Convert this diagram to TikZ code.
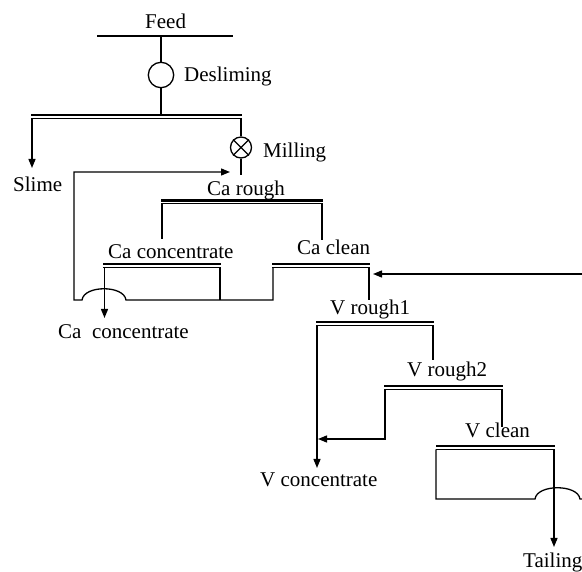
\documentclass[tikz,border=0pt]{standalone}
\usepackage{fontspec}
\setmainfont{Liberation Serif}
\usetikzlibrary{arrows.meta}
\newcommand\flotcell[3]{%
  \draw[cellbar] (#1,#3) -- (#2,#3);
  \draw[cellthin] (#1,#3+3.4) -- (#2,#3+3.4);}
\begin{document}
\begin{tikzpicture}[x=1pt,y=-1pt,
  line/.style={line width=1.3pt},
  cellbar/.style={line width=2.8pt},
  cellthin/.style={line width=1pt},
  arr/.style={line, -{Triangle[length=9pt,width=7pt]}},
  lbl/.style={font=\fontsize{21}{25}\selectfont, inner sep=0pt, anchor=base west},
  unit/.style={circle, draw, line width=1.3pt, inner sep=0pt},
]
\useasboundingbox (0,0) rectangle (582,572);

% labels
\node[lbl] (feed) at (145,29) {Feed};
\node[lbl] (deslab) at (184,82) {Desliming};
\node[lbl] (milllab) at (263,158) {Milling};
\node[lbl] (slime) at (13,192) {Slime};
\node[lbl] (carough) at (207,195.5) {Ca rough};
\node[lbl] (caconc) at (108,259) {Ca concentrate};
\node[lbl] (caclean) at (297,255) {Ca clean};
\node[lbl] (caconcout) at (58,339) {Ca\ \ concentrate};
\node[lbl] (vr1) at (330,315) {V rough1};
\node[lbl] (vr2) at (407,377) {V rough2};
\node[lbl] (vclean) at (465,438) {V clean};
\node[lbl] (vconc) at (260,487) {V concentrate};
\node[lbl] (tail) at (523,568) {Tailing};

% feed and desliming
\draw[line] (97,36) -- (233,36);
\node[unit, minimum size=25.4pt] (des) at (161,75) {};
\draw[line] (161,36) -- (des.north);
\draw[line] (des.south) -- (161,115);
\flotcell{31}{242}{115}
\draw[arr] (32,118.4) -- (32,168);

% milling
\node[unit, minimum size=21pt] (mill) at (241,147.5) {};
\draw[line] (mill.45) -- (mill.225) (mill.135) -- (mill.315);
\draw[line] (241,118.4) -- (mill.north);
\draw[line] (mill.south) -- (241,175);

% calcite circuit
\flotcell{161}{323}{200.5}
\draw[line] (162,203.9) -- (162,239);
\draw[line] (322,203.9) -- (322,240);

\flotcell{103}{221}{264}
\draw[arr] (104.5,267.4) -- (104.5,318);
\draw[line] (220,267.4) -- (220,300);

\flotcell{272}{370}{264}
\draw[line] (369,267.4) -- (369,300);

% recycle to milling
\draw[arr] (273,267.4) -- (273,300) -- (126,300)
  .. controls (124,285) and (84,285) .. (82,300) -- (74,300) -- (74,172) -- (230,172);

% recycle from right
\draw[arr] (584,274) -- (373,274);

% vanadium circuit
\flotcell{316}{434}{322}
\draw[arr] (317,325.4) -- (317,468);
\draw[line] (433,325.4) -- (433,360);

\flotcell{384}{503}{386}
\draw[arr] (385,389.4) -- (385,439) -- (318,439);
\draw[line] (502,389.4) -- (502,427);

\flotcell{436}{555}{446}
\draw[line] (436,449.4) -- (436,499) -- (535,499)
  .. controls (537,484) and (578,484) .. (580,499) -- (584,499);
\draw[arr] (554,449.4) -- (554,547);
\end{tikzpicture}
\end{document}
